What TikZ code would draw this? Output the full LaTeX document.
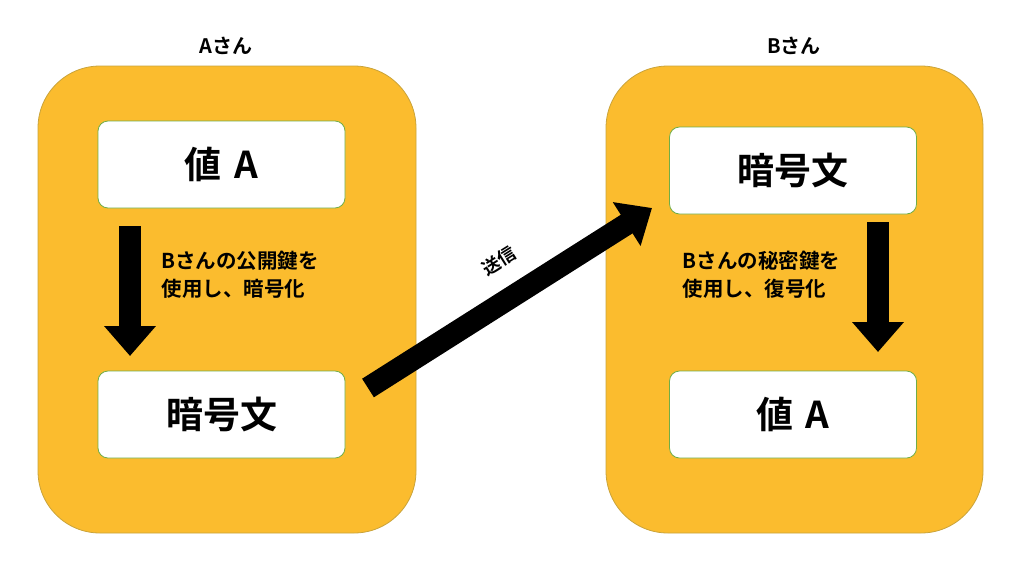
\documentclass[tikz,border=0pt]{standalone}
\usepackage{fontspec}
\setmainfont{Noto Sans CJK JP}[BoldFont={* Bold}]
\usetikzlibrary{arrows.meta}
\definecolor{org}{HTML}{FBBC2E}
\definecolor{orgb}{HTML}{C9A33A}
\definecolor{grn}{HTML}{70AD47}
\tikzset{x=1pt,y=-1pt,
 outer/.style={draw=orgb,fill=org,rounded corners=62pt,line width=0.8pt},
 inner/.style={draw=grn,fill=white,rounded corners=10pt,line width=0.8pt,minimum width=247pt,minimum height=87pt,font=\fontsize{37}{42}\bfseries\selectfont},
 bigarrow/.style={line width=22pt,-{Triangle[width=50pt,length=30pt]}},
 lbl/.style={font=\fontsize{20.5}{28}\bfseries\selectfont,align=left,anchor=north west},
 ttl/.style={font=\fontsize{20}{22}\bfseries\selectfont}}
\begin{document}
\begin{tikzpicture}
\useasboundingbox (0,0) rectangle (1024,563);
\draw[outer] (38,66) rectangle (416,533);
\draw[outer] (606,66) rectangle (983,533);
\node[ttl] (ta) at (226,46) {Aさん};
\node[ttl] (tb) at (794,46) {Bさん};
\node[inner] (a1) at (221.5,164.5) {値\,\,A};
\node[inner] (a2) at (221.5,414.5) {暗号文};
\node[inner] (b1) at (793,170.5) {暗号文};
\node[inner] (b2) at (793,414.5) {値\,\,A};
\coordinate (la1) at (130,226); \coordinate (la2) at (130,356);
\coordinate (ra1) at (878,222); \coordinate (ra2) at (878,352);
\coordinate (d1) at (368,388); \coordinate (d2) at (652,208);
\draw[bigarrow] (la1) -- (la2);
\draw[bigarrow] (ra1) -- (ra2);
\draw[bigarrow] (d1) -- (d2);
\node[lbl] (l1) at (158,248) {Bさんの公開鍵を\\使用し、暗号化};
\node[lbl] (l2) at (679,248) {Bさんの秘密鍵を\\使用し、復号化};
\node[font=\fontsize{18}{20}\bfseries\selectfont,rotate=32] (s) at (499,261) {送信};
\end{tikzpicture}
\end{document}
